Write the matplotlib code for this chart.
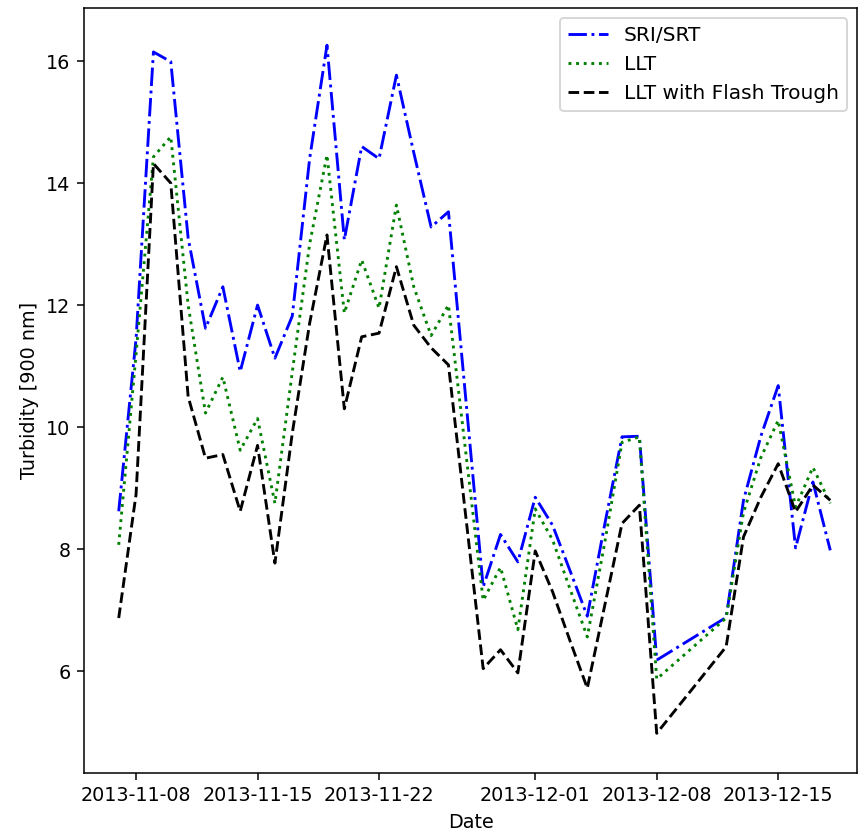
import numpy as np
import matplotlib
matplotlib.use("Agg")
import matplotlib.pyplot as plt
import matplotlib.dates as mdates

dates = np.array([
    "2013-11-07", "2013-11-08", "2013-11-09", "2013-11-10", "2013-11-11",
    "2013-11-12", "2013-11-13", "2013-11-14", "2013-11-15", "2013-11-16",
    "2013-11-17", "2013-11-18", "2013-11-19", "2013-11-20", "2013-11-21",
    "2013-11-22", "2013-11-23", "2013-11-24", "2013-11-25", "2013-11-26",
    "2013-11-28", "2013-11-29", "2013-11-30", "2013-12-01", "2013-12-02",
    "2013-12-03", "2013-12-04", "2013-12-05", "2013-12-06", "2013-12-07",
    "2013-12-08", "2013-12-12", "2013-12-13", "2013-12-14", "2013-12-15",
    "2013-12-16", "2013-12-17", "2013-12-18"], dtype="datetime64[D]")

sri_srt = [8.62, 11.45, 16.15, 15.99, 13.1, 11.62, 12.3, 10.91, 12.0, 11.13,
           11.82, 14.4, 16.26, 13.07, 14.6, 14.4, 15.77, 14.5, 13.28, 13.53,
           7.38, 8.24, 7.79, 8.85, 8.39, 7.65, 6.9, 8.4, 9.84, 9.85,
           6.18, 6.88, 8.8, 9.85, 10.68, 8.02, 9.1, 7.98]

llt = [8.07, 11.2, 14.43, 14.76, 12.0, 10.23, 10.82, 9.62, 10.14, 8.75,
       10.9, 13.0, 14.46, 11.87, 12.74, 11.95, 13.64, 12.3, 11.5, 12.0,
       7.16, 7.7, 6.68, 8.66, 8.15, 7.35, 6.56, 8.1, 9.75, 9.84,
       5.87, 6.87, 8.6, 9.5, 10.11, 8.69, 9.34, 8.75]

llt_flash = [6.87, 8.9, 14.32, 14.0, 10.5, 9.49, 9.55, 8.62, 9.7, 7.77,
             9.9, 11.7, 13.15, 10.3, 11.48, 11.54, 12.63, 11.67, 11.3, 11.02,
             6.04, 6.35, 5.97, 7.97, 7.3, 6.5, 5.72, 7.07, 8.42, 8.72,
             4.98, 6.4, 8.2, 8.85, 9.4, 8.61, 9.05, 8.8]

fig, ax = plt.subplots(figsize=(859 / 138, 836 / 138), dpi=138)
plt.subplots_adjust(left=0.0978, right=0.9977, bottom=0.0754, top=0.9904)

ax.plot(dates, sri_srt, color='b', linestyle='-.', label='SRI/SRT')
ax.plot(dates, llt, color='g', linestyle=':', label='LLT')
ax.plot(dates, llt_flash, color='k', linestyle='--', label='LLT with Flash Trough')

ax.xaxis.set_major_locator(mdates.DayLocator(bymonthday=[1, 8, 15, 22]))
ax.xaxis.set_major_formatter(mdates.DateFormatter('%Y-%m-%d'))
ax.set_xlim(np.datetime64("2013-11-05"), np.datetime64("2013-12-19T13:00"))
ax.set_ylim(4.33, 16.87)

ax.set_xlabel('Date')
ax.set_ylabel('Turbidity [900 nm]')
ax.legend(loc='upper right', fontsize=10.5)

fig.savefig('out.png', dpi=138)
